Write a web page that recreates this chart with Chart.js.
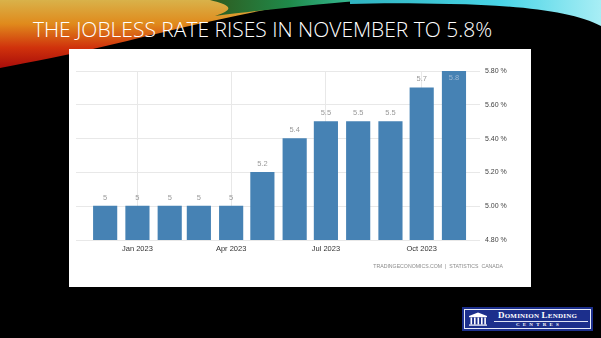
<!DOCTYPE html>
<html>
<head>
<meta charset="utf-8">
<script src="https://cdn.jsdelivr.net/npm/chart.js@4/dist/chart.umd.min.js"></script>
<style>
  html, body { margin: 0; padding: 0; background: #000; }
  #slide { position: relative; width: 601px; height: 338px; overflow: hidden; background: #000; }
  #swoosh { position: absolute; left: 0; top: 0; }
  #title { position: absolute; left: 33px; top: 14px; white-space: nowrap; color: #fff;
           font-family: "Open Sans", "Roboto", sans-serif; font-size: 21px; font-weight: 300; line-height: 30px; }
  #panel { position: absolute; left: 69px; top: 49px; width: 462px; height: 238px; background: #fff; }
  #logo { position: absolute; left: 462px; top: 307px; width: 131px; height: 24px; background: #1c2f8c; box-sizing: border-box; }
  #logo .inner { position: absolute; left: 2px; top: 2px; right: 2px; bottom: 2px; border: 1px solid #e8ecf8; }
  #logo .l1 { position: absolute; left: 36px; top: 3px; color: #fff; font-family: "Liberation Serif", serif; font-weight: bold; font-size: 9px; letter-spacing: 0.2px; white-space: nowrap; }
  #logo .l1 small { font-size: 7px; }
  #logo .rule { position: absolute; left: 32px; right: 5px; top: 14px; height: 1px; background: #dfe4f5; }
  #logo .l2 { position: absolute; left: 54px; top: 15px; color: #fff; font-family: "Liberation Serif", serif; font-weight: bold; font-size: 5px; letter-spacing: 3.2px; white-space: nowrap; }
  #logo svg { position: absolute; left: 6px; top: 5px; }
</style>
</head>
<body>
<div id="slide">
  <svg id="swoosh" width="601" height="80" viewBox="0 0 601 80">
    <defs>
      <linearGradient id="warm" x1="0" y1="0" x2="0" y2="1">
        <stop offset="0" stop-color="#d9b24a"/>
        <stop offset="0.35" stop-color="#e08a1c"/>
        <stop offset="0.7" stop-color="#d0320c"/>
        <stop offset="1" stop-color="#a80d0a"/>
      </linearGradient>
      <linearGradient id="green" x1="0" y1="0" x2="1" y2="0">
        <stop offset="0" stop-color="#2f5a1e"/>
        <stop offset="0.5" stop-color="#1f8a4a"/>
        <stop offset="1" stop-color="#3cc6a8"/>
      </linearGradient>
      <linearGradient id="cyan" x1="0" y1="0" x2="1" y2="0">
        <stop offset="0" stop-color="#2fb3c0"/>
        <stop offset="0.6" stop-color="#49d4e6"/>
        <stop offset="1" stop-color="#a8eef5"/>
      </linearGradient>
    </defs>
    <path d="M0,0 L330,0 C270,6 180,28 110,45 C70,55 30,62 0,68 Z" fill="url(#warm)"/>
    <path d="M210,0 L370,0 C330,3 280,8 215,16 C240,8 225,4 210,0 Z" fill="url(#green)"/>
    <path d="M350,0 L601,0 L601,26 C575,12 520,5 450,4 C410,3 380,3 350,4 Z" fill="url(#cyan)"/>
  </svg>
  <div id="title">THE JOBLESS RATE RISES IN NOVEMBER TO 5.8%</div>
  <div id="panel"><canvas id="c" width="462" height="238"></canvas></div>
  <div id="logo">
    <div class="inner"></div>
    <svg width="20" height="14" viewBox="0 0 20 14">
      <polygon points="1,4 10,0.5 19,4" fill="#fff"/>
      <rect x="1" y="4" width="18" height="1.2" fill="#fff"/>
      <rect x="2.5" y="5.5" width="1.6" height="7" fill="#fff"/>
      <rect x="6" y="5.5" width="1.6" height="7" fill="#fff"/>
      <rect x="9.5" y="5.5" width="1.6" height="7" fill="#fff"/>
      <rect x="13" y="5.5" width="1.6" height="7" fill="#fff"/>
      <rect x="16.3" y="5.5" width="1.6" height="7" fill="#fff"/>
      <rect x="1" y="12.5" width="18" height="1.2" fill="#fff"/>
    </svg>
    <div class="l1">D<small>OMINION</small> L<small>ENDING</small></div>
    <div class="rule"></div>
    <div class="l2">CENTRES</div>
  </div>
</div>
<script>
// ---- data ----
const months = ['2022-12','2023-01','2023-02','2023-03','2023-04','2023-05','2023-06','2023-07','2023-08','2023-09','2023-10','2023-11'];
const rates = [5.0, 5.0, 5.0, 5.0, 5.0, 5.2, 5.4, 5.5, 5.5, 5.5, 5.7, 5.8];
const tickMonths = ['2023-01','2023-04','2023-07','2023-10'];
const tickLabels = ['Jan 2023','Apr 2023','Jul 2023','Oct 2023'];
const sourceText = 'TRADINGECONOMICS.COM  |  STATISTICS  CANADA';

// days since first month (time-proportional x positions)
function dayOf(m) {
  const [y, mo] = m.split('-').map(Number);
  const [y0, m0] = months[0].split('-').map(Number);
  return (Date.UTC(y, mo - 1, 1) - Date.UTC(y0, m0 - 1, 1)) / 86400000;
}
const points = months.map((m, i) => ({ x: dayOf(m), y: rates[i] }));
const tickDays = tickMonths.map(dayOf);

const FONT = '"Liberation Sans", Arial, sans-serif';

const labelPlugin = {
  id: 'barLabels',
  afterDatasetsDraw(chart) {
    const ctx = chart.ctx;
    const meta = chart.getDatasetMeta(0);
    const area = chart.chartArea;
    ctx.save();
    ctx.font = '7.5px ' + FONT;
    ctx.textAlign = 'center';
    ctx.textBaseline = 'middle';
    meta.data.forEach((bar, i) => {
      let y = bar.y - 8.5;
      let color = '#9a9a9a';
      if (y < area.top + 3) { y = bar.y + 6.5; color = '#9db8d4'; }
      ctx.fillStyle = color;
      ctx.fillText(String(rates[i]), bar.x, y);
    });
    ctx.restore();
  }
};

const sourcePlugin = {
  id: 'source',
  afterDraw(chart) {
    const ctx = chart.ctx;
    ctx.save();
    ctx.font = '5.2px ' + FONT;
    ctx.fillStyle = '#8a8a8a';
    ctx.textAlign = 'right';
    ctx.textBaseline = 'middle';
    ctx.fillText(sourceText, 434, 218);
    ctx.restore();
  }
};

new Chart(document.getElementById('c'), {
  type: 'bar',
  data: {
    datasets: [{
      data: points,
      backgroundColor: '#4682b4',
      barThickness: 23.5,
      borderWidth: 0
    }]
  },
  options: {
    responsive: false,
    animation: false,
    devicePixelRatio: 1,
    layout: { padding: { left: 7, top: 22, right: 0, bottom: 0 } },
    plugins: { legend: { display: false }, tooltip: { enabled: false } },
    scales: {
      x: {
        type: 'linear',
        offset: false,
        min: -28,
        max: 360,
        afterBuildTicks(scale) { scale.ticks = tickDays.map(v => ({ value: v })); },
        afterFit(scale) { scale.height = 47; },
        ticks: {
          autoSkip: false,
          maxRotation: 0,
          padding: 4,
          color: '#333',
          font: { family: FONT, size: 7.5 },
          callback(v) { const k = tickDays.indexOf(v); return k >= 0 ? tickLabels[k] : ''; }
        },
        grid: { offset: false, color: '#e8e8e8', drawTicks: false, lineWidth: 1 },
        border: { display: false }
      },
      y: {
        position: 'right',
        min: 4.8,
        max: 5.8,
        afterFit(scale) { scale.width = 51; },
        ticks: {
          stepSize: 0.2,
          padding: 5,
          color: '#444',
          font: { family: FONT, size: 7 },
          callback(v) { return v.toFixed(2) + ' %'; }
        },
        grid: { color: '#e8e8e8', drawTicks: false, lineWidth: 1 },
        border: { display: false }
      }
    }
  },
  plugins: [labelPlugin, sourcePlugin]
});
</script>
</body>
</html>
